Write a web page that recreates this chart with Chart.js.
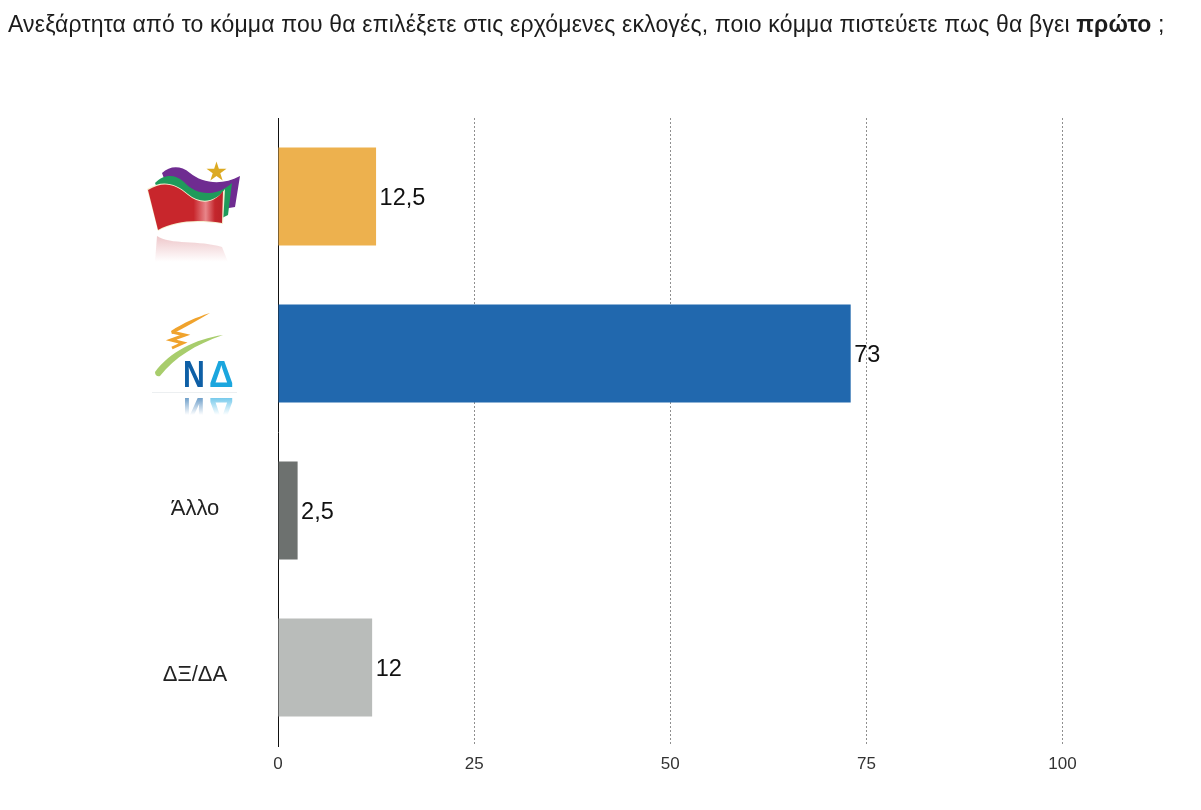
<!DOCTYPE html>
<html lang="el">
<head>
<meta charset="utf-8">
<title>Πρώτο κόμμα</title>
<script src="https://cdn.jsdelivr.net/npm/chart.js@4"></script>
<style>
  html, body { margin: 0; padding: 0; background: #fff; }
  #wrap { position: relative; width: 1201px; height: 810px; overflow: hidden; }
  #title {
    position: absolute; left: 8px; top: 11px; white-space: nowrap;
    font: 23px "Liberation Sans", sans-serif; letter-spacing: 0.17px; color: #1c1c1c;
  }
  canvas { position: absolute; left: 0; top: 0; }
</style>
</head>
<body>
<div id="wrap">
  <canvas id="chart" width="1201" height="810"></canvas>
  <div id="title">Ανεξάρτητα από το κόμμα που θα επιλέξετε στις ερχόμενες εκλογές, ποιο κόμμα πιστεύετε πως θα βγει <b>πρώτο</b> ;</div>
</div>
<script>
const categories = ['ΣΥΡΙΖΑ', 'ΝΔ', 'Άλλο', 'ΔΞ/ΔΑ'];
const values = [12.5, 73, 2.5, 12];
const valueLabels = ['12,5', '73', '2,5', '12'];
const barColors = ['#edb14e', '#2168ae', '#6d716f', '#b9bcba'];
const xTicks = [0, 25, 50, 75, 100];

const FONT = '"Liberation Sans", sans-serif';

function shape(ctx, points, fill) {
    ctx.beginPath();
    ctx.moveTo(points[0][0], points[0][1]);
    for (let i = 1; i < points.length; i++) {
        const p = points[i];
        if (p.length === 6) {
            ctx.bezierCurveTo(p[0], p[1], p[2], p[3], p[4], p[5]);
        } else {
            ctx.lineTo(p[0], p[1]);
        }
    }
    ctx.closePath();
    ctx.fillStyle = fill;
    ctx.fill();
}

function drawSyrizaLogo(ctx) {
    // purple band
    shape(ctx, [[162, 173], [170, 166, 180, 165, 190, 173], [202, 183, 222, 186, 240, 176],
        [235, 207], [229, 208], [200, 210], [170, 195]], '#6f2c91');
    // green band
    shape(ctx, [[155, 183], [163, 175, 174, 173, 184, 182], [196, 195, 215, 198, 232, 183],
        [228, 215], [222, 218], [190, 215], [160, 195]], '#1f9a5b');
    // cream edge + red flag
    shape(ctx, [[147, 189], [161, 180, 175, 182, 188, 194], [200, 204, 215, 203, 225, 189],
        [223, 224], [195, 220, 175, 222, 158, 231]], '#f5efd0');
    const red = ctx.createLinearGradient(148, 0, 224, 0);
    red.addColorStop(0, '#c8262c');
    red.addColorStop(0.6, '#c8262c');
    red.addColorStop(0.76, '#e8868a');
    red.addColorStop(0.88, '#c4262c');
    red.addColorStop(1, '#b82328');
    shape(ctx, [[148, 190], [162, 181, 175, 183, 188, 195], [200, 205, 214, 204, 223, 191],
        [222, 223], [195, 219, 175, 221, 158, 230]], red);
    // reflection
    const fade = ctx.createLinearGradient(0, 236, 0, 262);
    fade.addColorStop(0, 'rgba(200,70,80,0.3)');
    fade.addColorStop(1, 'rgba(200,70,80,0)');
    shape(ctx, [[157, 236], [170, 245, 200, 240, 222, 247], [228, 262], [155, 262]], fade);
    // star
    ctx.beginPath();
    for (let i = 0; i < 10; i++) {
        const r = i % 2 ? 4 : 10.5;
        const a = -Math.PI / 2 + i * Math.PI / 5;
        ctx.lineTo(216.5 + r * Math.cos(a), 172 + r * Math.sin(a));
    }
    ctx.closePath();
    ctx.fillStyle = '#dcaa22';
    ctx.fill();
}

function drawNdLetter(ctx, letter, x, y, sx, fill) {
    ctx.save();
    ctx.translate(x, y);
    ctx.scale(sx, 1);
    ctx.fillStyle = typeof fill === 'function' ? fill(ctx) : fill;
    ctx.fillText(letter, 0, 0);
    ctx.restore();
}

function fadeGradient(rgb) {
    return ctx => {
        const g = ctx.createLinearGradient(0, 0, 0, -17);
        g.addColorStop(0, 'rgba(' + rgb + ',0.6)');
        g.addColorStop(1, 'rgba(' + rgb + ',0)');
        return g;
    };
}

function drawNdLogo(ctx) {
    // orange scribble
    shape(ctx, [[210, 313], [197, 317, 183, 323, 171, 331], [172, 334], [186, 327, 198, 320, 210, 313]], '#f0a32d');
    ctx.beginPath();
    ctx.moveTo(172, 332);
    ctx.lineTo(185, 335);
    ctx.lineTo(171, 340);
    ctx.lineTo(183, 343);
    ctx.lineTo(172, 348);
    ctx.strokeStyle = '#f0a32d';
    ctx.lineWidth = 3;
    ctx.stroke();
    // green swoosh
    shape(ctx, [[223, 335], [195, 339, 170, 352, 155, 372], [155, 376, 158, 377, 160, 376],
        [175, 357, 195, 345, 223, 335]], '#a8cd6c');
    ctx.textBaseline = 'alphabetic';
    ctx.textAlign = 'left';
    ctx.font = 'bold 36px ' + FONT;
    drawNdLetter(ctx, 'Ν', 183, 386.5, 0.84, '#0e5fa6');
    drawNdLetter(ctx, 'Δ', 209, 386.5, 0.95, '#1ba6de');
    // baseline and reflection
    ctx.fillStyle = 'rgba(200,210,215,0.35)';
    ctx.fillRect(152, 392, 85, 1);
    ctx.save();
    ctx.translate(0, 797);
    ctx.scale(1, -1);
    drawNdLetter(ctx, 'Ν', 183, 399, 0.84, fadeGradient('14,95,166'));
    drawNdLetter(ctx, 'Δ', 209, 399, 0.95, fadeGradient('27,166,222'));
    ctx.restore();
}

const annotations = {
    id: 'annotations',
    afterDatasetsDraw(chart) {
        const ctx = chart.ctx;
        const meta = chart.getDatasetMeta(0);
        ctx.save();
        ctx.fillStyle = '#111';
        ctx.textBaseline = 'middle';
        ctx.textAlign = 'left';
        ctx.font = '23.5px ' + FONT;
        meta.data.forEach((bar, i) => {
            ctx.fillText(valueLabels[i], bar.x + 3.5, bar.y + 2);
        });
        // text categories sit left of the axis, the two parties use logos
        ctx.font = '22px ' + FONT;
        ctx.textAlign = 'center';
        ctx.fillStyle = '#222';
        ctx.fillText(categories[2], 195, meta.data[2].y - 2);
        ctx.fillText(categories[3], 195, meta.data[3].y + 7);
        drawSyrizaLogo(ctx);
        drawNdLogo(ctx);
        ctx.restore();
    }
};

new Chart(document.getElementById('chart'), {
    type: 'bar',
    data: {
        labels: categories,
        datasets: [{
            data: values,
            backgroundColor: barColors,
            barPercentage: 0.624,
            categoryPercentage: 1
        }]
    },
    options: {
        indexAxis: 'y',
        responsive: false,
        animation: false,
        layout: { padding: { left: 0, top: 118, right: 138.5, bottom: 0 } },
        plugins: { legend: { display: false }, tooltip: { enabled: false } },
        scales: {
            x: {
                min: 0,
                max: 100,
                afterBuildTicks(scale) { scale.ticks = xTicks.map(v => ({ value: v })); },
                afterFit(scale) { scale.height = 64; },
                border: { display: false, dash: [2, 2] },
                grid: {
                    drawTicks: false,
                    color: ctx => (ctx.tick && ctx.tick.value === 0 ? 'rgba(0,0,0,0)' : '#8f8f8f')
                },
                ticks: { padding: 8, maxRotation: 0, color: '#333', font: { family: FONT, size: 17 } }
            },
            y: {
                afterFit(scale) { scale.width = 278; },
                border: { color: '#111', width: 1 },
                grid: { display: false },
                ticks: { display: false }
            }
        }
    },
    plugins: [annotations]
});
</script>
</body>
</html>
